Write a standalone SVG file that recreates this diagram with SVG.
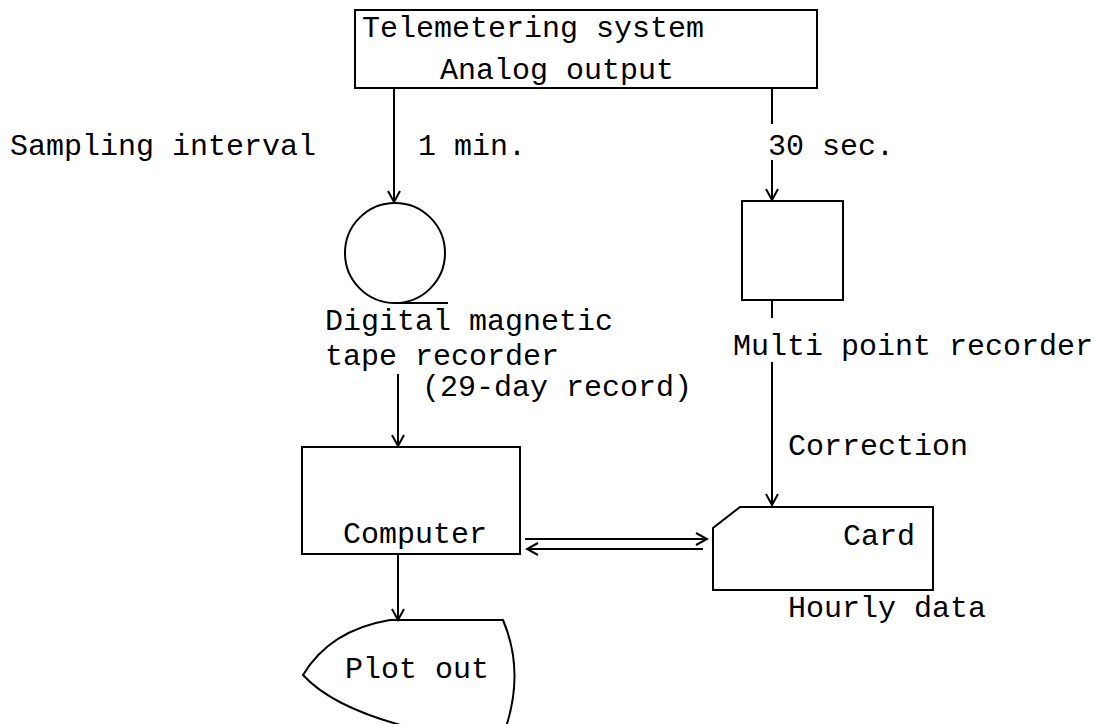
<svg xmlns="http://www.w3.org/2000/svg" width="1104" height="724" viewBox="0 0 1104 724">
<style>
.s{fill:none;stroke:#000;stroke-width:2}
.t{font-family:"Liberation Mono","Courier New",monospace;font-size:30px;fill:#000}
.c{fill:none;stroke:#000;stroke-width:2}
</style>
<defs>
<marker id="ah" viewBox="0 0 14 14" refX="12" refY="7" markerWidth="14" markerHeight="14" markerUnits="userSpaceOnUse" orient="auto">
<path d="M1,1 L12,7 L1,13" fill="none" stroke="#000" stroke-width="2"/>
</marker>
</defs>
<rect width="1104" height="724" fill="#fff"/>
<g id="telemetering">
<rect class="s" x="355" y="10" width="462" height="78"/>
<text class="t" x="362" y="37">Telemetering system</text>
<text class="t" x="440" y="79">Analog output</text>
</g>
<g id="tape">
<circle class="s" cx="395" cy="253" r="50"/>
<line class="s" x1="395" y1="303" x2="448" y2="303"/>
<text class="t" x="325" y="330">Digital magnetic</text>
<text class="t" x="325" y="365">tape recorder</text>
<text class="t" x="422" y="396">(29-day record)</text>
</g>
<g id="multipoint">
<rect class="s" x="742" y="201" width="101" height="99"/>
<text class="t" x="733" y="355">Multi point recorder</text>
</g>
<g id="computer">
<rect class="s" x="302" y="447" width="218" height="107"/>
<text class="t" x="343" y="543">Computer</text>
</g>
<g id="card">
<path class="s" d="M740,507 L933,507 L933,590 L713,590 L713,528 Z"/>
<text class="t" x="843" y="545">Card</text>
<text class="t" x="788" y="617">Hourly data</text>
</g>
<g id="plotout">
<path class="s" d="M390,620 L503,620 Q525,672 505,730 L420,730 Q335,710 303,675 Q330,630 390,620 Z"/>
<text class="t" x="345" y="678">Plot out</text>
</g>
<g id="labels">
<text class="t" x="10" y="155">Sampling interval</text>
<text class="t" x="418" y="155">1 min.</text>
<text class="t" x="768" y="155">30 sec.</text>
<text class="t" x="788" y="455">Correction</text>
</g>
<g id="connectors">
<line class="c" x1="394" y1="88" x2="394" y2="202" marker-end="url(#ah)"/>
<line class="c" x1="772" y1="88" x2="772" y2="124"/>
<line class="c" x1="772" y1="160" x2="772" y2="200" marker-end="url(#ah)"/>
<line class="c" x1="772" y1="300" x2="772" y2="318"/>
<line class="c" x1="772" y1="362" x2="772" y2="505" marker-end="url(#ah)"/>
<line class="c" x1="398" y1="374" x2="398" y2="446" marker-end="url(#ah)"/>
<line class="c" x1="398" y1="554" x2="398" y2="620" marker-end="url(#ah)"/>
<line class="c" x1="525" y1="539" x2="707" y2="539" marker-end="url(#ah)"/>
<line class="c" x1="703" y1="549" x2="527" y2="549" marker-end="url(#ah)"/>
</g>
</svg>
